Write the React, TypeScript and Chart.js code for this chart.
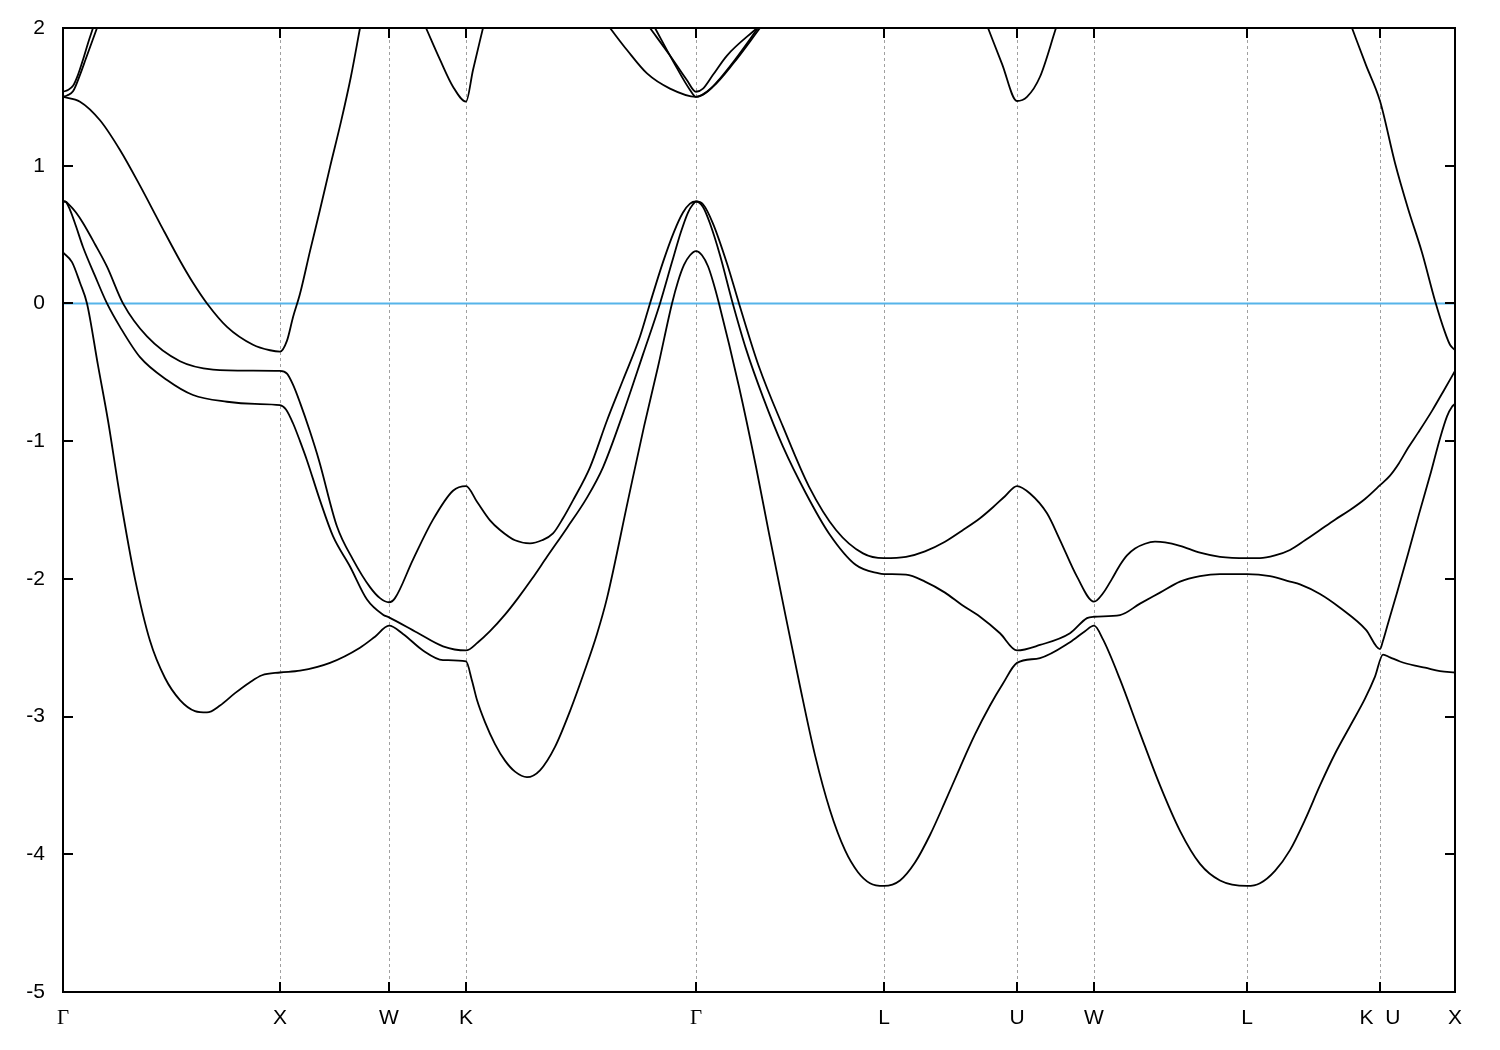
import React, { useEffect, useRef } from 'react';
import { Chart, registerables } from 'chart.js';

Chart.register(...registerables);

type Pt = [number, number | null];

// Path coordinate along the k-path (linear units, full path = 1392)
const pathStart = 0;
const pathEnd = 1392;
const symPointPositions = [0, 217, 326, 403, 633, 821, 954, 1031, 1184, 1317, 1392];
const symPointLabels = ['Γ', 'X', 'W', 'K', 'Γ', 'L', 'U', 'W', 'L', 'K  U', 'X'];
const energyTicks = [-5, -4, -3, -2, -1, 0, 1, 2];
const energyMin = -5;
const energyMax = 2;
const fermiLevel = 0;

const band1: Pt[] = [
  [0, 0.37], [9, 0.3], [17, 0.15], [24, 0], [35, -0.45], [45, -0.85], [57, -1.4], [72, -2.0],
  [87, -2.45], [102, -2.72], [117, -2.88], [132, -2.96], [144, -2.97], [157, -2.92], [172, -2.83],
  [187, -2.75], [199, -2.7], [217, -2.68], [237, -2.667], [267, -2.61], [297, -2.5], [312, -2.42],
  [326, -2.34], [340, -2.4], [360, -2.52], [380, -2.59], [403, -2.6], [409, -2.74], [414, -2.88],
  [422, -3.04], [432, -3.2], [442, -3.32], [452, -3.4], [464, -3.44], [477, -3.39], [492, -3.22],
  [507, -2.96], [522, -2.66], [534, -2.4], [544, -2.14], [565, -1.43], [581, -0.895], [595, -0.46],
  [609, 0], [615, 0.16], [621, 0.28], [627, 0.35], [633, 0.38], [639, 0.35], [645, 0.27],
  [650, 0.16], [656, 0], [676, -0.605], [693, -1.186], [706, -1.67], [719, -2.14], [737, -2.78],
  [752, -3.28], [767, -3.68], [782, -3.97], [795, -4.13], [807, -4.21], [821, -4.23], [837, -4.19],
  [852, -4.06], [867, -3.86], [882, -3.62], [897, -3.37], [912, -3.13], [927, -2.92], [940, -2.76],
  [954, -2.61], [977, -2.575], [1007, -2.46], [1022, -2.38], [1031, -2.34], [1040, -2.44],
  [1057, -2.73], [1077, -3.12], [1097, -3.5], [1117, -3.83], [1137, -4.07], [1157, -4.19],
  [1184, -4.23], [1197, -4.21], [1212, -4.12], [1227, -3.97], [1242, -3.75], [1257, -3.5],
  [1272, -3.27], [1287, -3.07], [1302, -2.87], [1312, -2.71], [1320, -2.55], [1327, -2.57],
  [1337, -2.6], [1352, -2.63], [1362, -2.645], [1377, -2.67], [1392, -2.68],
];

const band2: Pt[] = [
  [0, 0.74], [2, 0.74], [7, 0.68], [13, 0.56], [20, 0.41], [32, 0.2], [44, 0], [57, -0.17],
  [77, -0.39], [104, -0.556], [130, -0.665], [164, -0.714], [192, -0.73], [217, -0.738],
  [223, -0.77], [230, -0.87], [237, -1.0], [244, -1.14], [257, -1.43], [270, -1.69], [287, -1.91],
  [304, -2.15], [320, -2.26], [326, -2.28], [354, -2.39], [380, -2.49], [403, -2.52], [415, -2.46],
  [427, -2.38], [442, -2.26], [455, -2.14], [469, -2.0], [484, -1.84], [504, -1.63], [524, -1.41],
  [540, -1.19], [560, -0.8], [580, -0.37], [597, 0], [609, 0.3], [618, 0.52], [625, 0.66],
  [630, 0.72], [633, 0.74], [640, 0.7], [647, 0.58], [657, 0.35], [669, 0.02], [683, -0.33],
  [700, -0.68], [720, -1.04], [743, -1.38], [766, -1.67], [793, -1.9], [816, -1.96], [821, -1.965],
  [843, -1.97], [862, -2.02], [882, -2.1], [899, -2.19], [917, -2.275], [937, -2.395], [954, -2.52],
  [977, -2.48], [1007, -2.395], [1024, -2.285], [1031, -2.275], [1057, -2.263], [1077, -2.18],
  [1097, -2.1], [1117, -2.02], [1137, -1.98], [1157, -1.965], [1184, -1.965], [1207, -1.98],
  [1227, -2.02], [1237, -2.04], [1257, -2.11], [1277, -2.21], [1303, -2.37], [1317, -2.51],
  [1320, -2.45], [1324, -2.35], [1334, -2.1], [1345, -1.82], [1356, -1.53], [1367, -1.25],
  [1377, -0.98], [1384, -0.82], [1389, -0.75], [1392, -0.73],
];

const band3: Pt[] = [
  [0, 0.74], [2, 0.74], [7, 0.71], [13, 0.66], [20, 0.584], [32, 0.43], [44, 0.267], [60, 0],
  [84, -0.24], [117, -0.42], [150, -0.48], [187, -0.488], [217, -0.49], [224, -0.51], [230, -0.59],
  [237, -0.72], [247, -0.93], [256, -1.14], [274, -1.62], [290, -1.86], [307, -2.06], [317, -2.14],
  [326, -2.17], [332, -2.14], [350, -1.86], [370, -1.57], [390, -1.36], [403, -1.326], [414, -1.44],
  [427, -1.575], [437, -1.645], [452, -1.72], [467, -1.742], [479, -1.72], [490, -1.67],
  [500, -1.56], [510, -1.43], [527, -1.19], [544, -0.85], [560, -0.556], [577, -0.24], [587, 0],
  [600, 0.3], [611, 0.52], [620, 0.66], [627, 0.725], [633, 0.74], [640, 0.72], [650, 0.58],
  [664, 0.29], [676, 0], [696, -0.46], [720, -0.895], [746, -1.33], [773, -1.645], [800, -1.815],
  [821, -1.85], [843, -1.84], [862, -1.8], [882, -1.73], [899, -1.65], [917, -1.56], [930, -1.48],
  [942, -1.4], [954, -1.326], [967, -1.38], [984, -1.524], [997, -1.718], [1014, -1.984],
  [1031, -2.166], [1040, -2.105], [1049, -2.0], [1057, -1.9], [1064, -1.83], [1072, -1.78],
  [1082, -1.745], [1092, -1.73], [1102, -1.735], [1117, -1.76], [1137, -1.81], [1157, -1.84],
  [1184, -1.85], [1197, -1.85], [1212, -1.83], [1227, -1.79], [1242, -1.72], [1257, -1.645],
  [1272, -1.57], [1287, -1.5], [1302, -1.42], [1317, -1.32], [1327, -1.25], [1336, -1.16],
  [1345, -1.05], [1355, -0.94], [1369, -0.78], [1381, -0.63], [1392, -0.49],
];

const band4: Pt[] = [
  [0, 1.5], [17, 1.465], [37, 1.33], [57, 1.114], [77, 0.855], [97, 0.58], [117, 0.31], [130, 0.15],
  [144, 0], [164, -0.17], [190, -0.3], [207, -0.34], [217, -0.35], [224, -0.27], [230, -0.1],
  [237, 0.07], [247, 0.38], [257, 0.68], [267, 0.99], [278, 1.32], [288, 1.65], [297, 2.0],
  [330, null],
  [363, 2.0], [377, 1.77], [390, 1.574], [403, 1.465], [410, 1.695], [420, 2.0], [480, null],
  [547, 2.0], [564, 1.84], [584, 1.67], [607, 1.56], [633, 1.5], [650, 1.574], [670, 1.74],
  [697, 2.0], [850, null],
  [925, 2.0], [939, 1.74], [954, 1.47], [964, 1.5], [977, 1.646], [993, 2.0], [1150, null],
  [1289, 2.0], [1303, 1.73], [1317, 1.47], [1332, 1.02], [1345, 0.69], [1359, 0.37], [1372, 0.02],
  [1382, -0.21], [1387, -0.3], [1392, -0.34],
];

const band5: Pt[] = [
  [0, 1.5], [4, 1.51], [10, 1.54], [17, 1.66], [23, 1.78], [29, 1.9], [34, 2.0], [300, null],
  [592, 2.0], [610, 1.76], [627, 1.55], [633, 1.5], [643, 1.53], [653, 1.6], [672, 1.77],
  [695, 2.0],
];

const band6: Pt[] = [
  [0, 1.537], [5, 1.55], [10, 1.58], [15, 1.66], [20, 1.77], [25, 1.89], [30, 2.0], [300, null],
  [587, 2.0], [607, 1.8], [624, 1.62], [633, 1.537], [640, 1.56], [650, 1.66], [664, 1.8],
  [694, 2.0],
];

const bands = [band1, band2, band3, band4, band5, band6];

const SANS = "'Liberation Sans', Arial, sans-serif";
const SERIF = "'Liberation Serif', 'DejaVu Serif', serif";
const FONT_SIZE = 21;

const framePlugin = {
  id: 'bandFrame',
  beforeDatasetsDraw(chart: any) {
    const { ctx, chartArea: a, scales } = chart;
    const x = scales.x;
    ctx.save();
    ctx.strokeStyle = '#a0a0a0';
    ctx.lineWidth = 1;
    ctx.setLineDash([3, 3]);
    symPointPositions.slice(1, -1).forEach((v) => {
      const px = Math.round(x.getPixelForValue(v)) + 0.5;
      ctx.beginPath();
      ctx.moveTo(px, a.top);
      ctx.lineTo(px, a.bottom);
      ctx.stroke();
    });
    ctx.restore();
  },
  afterDatasetsDraw(chart: any) {
    const { ctx, chartArea: a, scales } = chart;
    const x = scales.x;
    const y = scales.y;
    ctx.save();
    ctx.strokeStyle = '#000';
    ctx.lineWidth = 2;
    ctx.setLineDash([]);
    ctx.strokeRect(a.left, a.top, a.right - a.left, a.bottom - a.top);
    const len = 10;
    ctx.beginPath();
    energyTicks.forEach((v) => {
      const py = Math.round(y.getPixelForValue(v));
      ctx.moveTo(a.left, py);
      ctx.lineTo(a.left + len, py);
      ctx.moveTo(a.right, py);
      ctx.lineTo(a.right - len, py);
    });
    symPointPositions.slice(1, -1).forEach((v) => {
      const px = Math.round(x.getPixelForValue(v));
      ctx.moveTo(px, a.bottom);
      ctx.lineTo(px, a.bottom - len);
      ctx.moveTo(px, a.top);
      ctx.lineTo(px, a.top + len);
    });
    ctx.stroke();
    ctx.restore();
  },
};

export default function App() {
  const canvasRef = useRef<HTMLCanvasElement | null>(null);

  useEffect(() => {
    if (!canvasRef.current) return;
    const datasets: any[] = bands.map((b, i) => ({
      label: `band ${i + 1}`,
      data: b.map(([px, e]) => ({ x: px, y: e })),
      borderColor: '#000000',
      borderWidth: 1.8,
      pointRadius: 0,
      fill: false,
      spanGaps: false,
      cubicInterpolationMode: 'monotone',
    }));
    datasets.push({
      label: 'Fermi level',
      data: [
        { x: pathStart, y: fermiLevel },
        { x: pathEnd, y: fermiLevel },
      ],
      borderColor: '#56b4e9',
      borderWidth: 2,
      pointRadius: 0,
      fill: false,
    });

    const chart = new Chart(canvasRef.current, {
      type: 'line',
      data: { datasets },
      plugins: [framePlugin],
      options: {
        animation: false,
        responsive: false,
        layout: { padding: { top: 20, right: 37, bottom: 8, left: 0 } },
        plugins: {
          legend: { display: false },
          tooltip: { enabled: false },
        },
        scales: {
          x: {
            type: 'linear',
            min: pathStart,
            max: pathEnd,
            grid: { display: false, drawTicks: false },
            border: { display: false },
            afterBuildTicks: (s: any) => {
              s.ticks = symPointPositions.map((v) => ({ value: v }));
            },
            afterFit: (s: any) => {
              s.height = 42;
              s.paddingLeft = 0;
              s.paddingRight = 0;
            },
            ticks: {
              autoSkip: false,
              maxRotation: 0,
              minRotation: 0,
              padding: 14,
              color: '#000',
              font: (c: any) => {
                const idx = c.index ?? 0;
                const lab = symPointLabels[idx];
                return { family: lab === 'Γ' ? SERIF : SANS, size: FONT_SIZE };
              },
              callback: (v: any) => {
                const idx = symPointPositions.indexOf(Number(v));
                return idx >= 0 ? symPointLabels[idx] : '';
              },
            },
          },
          y: {
            type: 'linear',
            min: energyMin,
            max: energyMax,
            grid: { display: false, drawTicks: false },
            border: { display: false },
            afterBuildTicks: (s: any) => {
              s.ticks = energyTicks.map((v) => ({ value: v }));
            },
            afterFit: (s: any) => {
              s.width = 55;
              s.paddingTop = 0;
              s.paddingBottom = 0;
            },
            ticks: {
              padding: 18,
              color: '#000',
              font: { family: SANS, size: FONT_SIZE },
              callback: (v: any) => String(v),
            },
          },
        },
      } as any,
    });
    return () => chart.destroy();
  }, []);

  return (
    <div style={{ width: 1484, height: 1034, background: '#fff' }}>
      <canvas ref={canvasRef} width={1484} height={1034} style={{ display: 'block' }} />
    </div>
  );
}
